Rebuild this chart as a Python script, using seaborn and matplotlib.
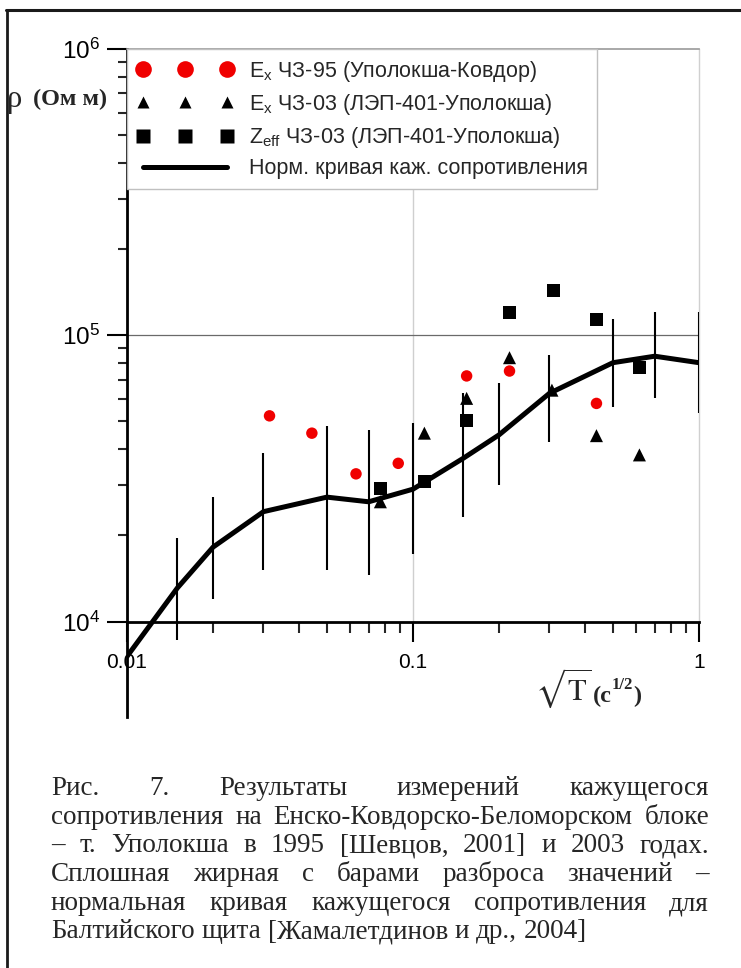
import numpy as np
import pandas as pd
import matplotlib
matplotlib.use("Agg")
import matplotlib.pyplot as plt
import seaborn as sns
from matplotlib.lines import Line2D
from matplotlib.ticker import FixedLocator, NullFormatter, FixedFormatter

# ---------------- data ----------------
sqrt_t = [0.01, 0.015, 0.02, 0.03, 0.05, 0.07, 0.1, 0.15, 0.2, 0.3, 0.5, 0.7, 1.0]
rho_norm = [7550, 13100, 18200, 24200, 27200, 26200, 29000, 37200, 44900, 62700, 80200, 84500, 80200]
rho_low = [4650, 8630, 11970, 15140, 15140, 14550, 17180, 23230, 30000, 42270, 56230, 60260, 53330]
rho_high = [12250, 19630, 27160, 38730, 48310, 46670, 49200, 62660, 67920, 85310, 114000, 120800, 120800]

ex95_t = [0.0315, 0.0443, 0.0632, 0.0888, 0.154, 0.2175, 0.438]
ex95_rho = [52300, 45500, 32800, 35700, 72100, 75000, 57800]

ex03_t = [0.0769, 0.1096, 0.154, 0.2175, 0.306, 0.438, 0.619]
ex03_rho = [26200, 45500, 60200, 83500, 64300, 44600, 38200]

zeff_t = [0.0769, 0.1096, 0.154, 0.2175, 0.309, 0.438, 0.619]
zeff_rho = [29200, 30800, 50200, 119800, 143900, 113600, 77200]

labels = [r"E$_\mathregular{x}$ ЧЗ-95 (Уполокша-Ковдор)",
          r"E$_\mathregular{x}$ ЧЗ-03 (ЛЭП-401-Уполокша)",
          r"Z$_\mathregular{eff}$ ЧЗ-03 (ЛЭП-401-Уполокша)",
          "Норм. кривая каж. сопротивления"]

y_major = [1e4, 1e5, 1e6]
y_major_labels = [r"$10^{4}$", r"$10^{5}$", r"$10^{6}$"]
x_major = [0.01, 0.1, 1]
x_major_labels = ["0.01", "0.1", "1"]

caption_lines = [
    "Рис. 7. Результаты измерений кажущегося",
    "сопротивления на Енско-Ковдорско-Беломорском блоке",
    "– т. Уполокша в 1995 [Шевцов, 2001] и 2003 годах.",
    "Сплошная жирная с барами разброса значений –",
    "нормальная кривая кажущегося сопротивления для",
    "Балтийского щита [Жамалетдинов и др., 2004]",
]

# ---------------- style ----------------
sns.set_theme(style="white")
plt.rcParams["font.family"] = ["Liberation Sans", "DejaVu Sans"]
plt.rcParams["mathtext.fontset"] = "custom"
plt.rcParams["mathtext.rm"] = "Liberation Sans"
plt.rcParams["mathtext.it"] = "Liberation Sans:italic"
plt.rcParams["mathtext.bf"] = "Liberation Sans:bold"

W, H = 741, 968
fig = plt.figure(figsize=(W / 100, H / 100), dpi=100)
fig.patch.set_facecolor("white")

def fx(px):
    return px / W

def fy(py):
    return 1 - py / H

ax_left, ax_right, ax_top, ax_bottom = 127, 699, 49, 717
ax = fig.add_axes([fx(ax_left), fy(ax_bottom), (ax_right - ax_left) / W, (ax_bottom - ax_top) / H])
ax.set_facecolor("white")
ax.set_xscale("log")
ax.set_yscale("log")
ax.set_xlim(0.01, 1)
ax.set_ylim(4640, 1e6)

# error bars
ax.vlines(sqrt_t, rho_low, rho_high, color="black", lw=1.5, zorder=3)

# normal curve
df_norm = pd.DataFrame({"t": sqrt_t, "rho": rho_norm})
sns.lineplot(data=df_norm, x="t", y="rho", ax=ax, color="black", lw=3.6, zorder=4,
             sort=False, estimator=None)

# points
sns.scatterplot(x=ex95_t, y=ex95_rho, ax=ax, marker="o", s=68, color="#f00000",
                edgecolor="none", zorder=5)
sns.scatterplot(x=ex03_t, y=ex03_rho, ax=ax, marker="^", s=88, color="black",
                edgecolor="none", zorder=5)
sns.scatterplot(x=zeff_t, y=zeff_rho, ax=ax, marker="s", s=88, color="black",
                edgecolor="none", zorder=5)

# grid lines
frac_1e4 = (np.log10(1e4) - np.log10(4640)) / (np.log10(1e6) - np.log10(4640))
ax.axvline(0.1, ymin=frac_1e4, ymax=1, color="#cfcfcf", lw=1.0, zorder=1)
ax.axhline(1e5, color="#6a6a6a", lw=0.9, zorder=1)

# spines
ax.spines["bottom"].set_position(("data", 1e4))
ax.spines["bottom"].set_linewidth(2.0)
ax.spines["bottom"].set_color("black")
ax.spines["left"].set_linewidth(2.0)
ax.spines["left"].set_color("black")
ax.spines["top"].set_color("#9a9a9a")
ax.spines["top"].set_linewidth(1.2)
ax.spines["right"].set_color("#d0d0d0")
ax.spines["right"].set_linewidth(1.0)
ax.spines["right"].set_bounds(1e4, 1e6)

# ticks
ax.yaxis.set_major_locator(FixedLocator(y_major))
ax.yaxis.set_major_formatter(FixedFormatter(y_major_labels))
y_minor = [m * 10 ** e for e in (4, 5) for m in range(2, 10)]
ax.yaxis.set_minor_locator(FixedLocator(y_minor))
ax.yaxis.set_minor_formatter(NullFormatter())
ax.xaxis.set_major_locator(FixedLocator(x_major))
ax.xaxis.set_major_formatter(FixedFormatter(x_major_labels))
x_minor = [m * 10 ** e for e in (-2, -1) for m in range(2, 10)]
ax.xaxis.set_minor_locator(FixedLocator(x_minor))
ax.xaxis.set_minor_formatter(NullFormatter())

ax.tick_params(axis="y", which="major", direction="out", length=14.4, width=1.5,
               labelsize=17.5, pad=5, left=True, right=False, colors="black")
ax.tick_params(axis="y", which="minor", direction="out", length=6.5, width=1.5,
               left=True, right=False)
ax.tick_params(axis="x", which="major", direction="out", length=14.4, width=1.5,
               labelsize=15, pad=8, bottom=True, top=False, colors="black")
ax.tick_params(axis="x", which="minor", direction="out", length=8, width=1.5,
               bottom=True, top=False)
ax.set_xlabel("")
ax.set_ylabel("")

# legend
handles = [
    Line2D([], [], ls="none", marker="o", ms=12, color="#f00000", mec="none"),
    Line2D([], [], ls="none", marker="^", ms=8, color="black", mec="none"),
    Line2D([], [], ls="none", marker="s", ms=9.5, color="black", mec="none"),
    Line2D([], [], ls="-", lw=3.6, color="black"),
]
leg = ax.legend(handles, labels, loc="upper left", bbox_to_anchor=(0, 1),
                borderaxespad=0, numpoints=3, handlelength=4.5, handletextpad=0.7,
                labelspacing=0.38, borderpad=0.45, fontsize=15.5, frameon=True,
                fancybox=False, framealpha=1, edgecolor="#c0c0c0")
leg.get_frame().set_linewidth(1.0)
leg.set_zorder(10)

# axis labels (placed in figure pixels)
fig.text(fx(7), fy(99), "ρ", fontfamily="Liberation Serif", fontsize=22,
         va="center", ha="left")
fig.text(fx(33), fy(99), "(Ом м)", fontfamily="Liberation Serif", fontweight="bold",
         fontsize=17.5, va="center", ha="left")

fig.canvas.draw()
renderer = fig.canvas.get_renderer()

def px_width(t):
    bb = t.get_window_extent(renderer)
    return bb.width

t1 = fig.text(fx(535), fy(700), r"$\sqrt{\mathrm{T}}$", fontsize=22, math_fontfamily="stix",
              va="baseline", ha="left")
x_cur = 535 + px_width(t1) + 1
t2 = fig.text(fx(x_cur), fy(702), "(с", fontfamily="Liberation Serif", fontweight="bold",
              fontsize=17.5, va="baseline", ha="left")
x_cur += px_width(t2)
t3 = fig.text(fx(x_cur), fy(689), "1/2", fontfamily="Liberation Serif", fontweight="bold",
              fontsize=12, va="baseline", ha="left")
x_cur += px_width(t3)
fig.text(fx(x_cur), fy(702), ")", fontfamily="Liberation Serif", fontweight="bold",
         fontsize=17.5, va="baseline", ha="left")

# caption, justified
cap_fs = 19.5
cap_left, cap_right = 51, 709
baselines = [795, 824, 852, 881, 910, 938]
probe_a = fig.text(0, 0, "a", fontfamily="Liberation Serif", fontsize=cap_fs)
probe_b = fig.text(0, 0, "a a", fontfamily="Liberation Serif", fontsize=cap_fs)
space_w = px_width(probe_b) - 2 * px_width(probe_a)
probe_a.remove()
probe_b.remove()
for i, (line, base) in enumerate(zip(caption_lines, baselines)):
    words = line.split(" ")
    texts = [fig.text(0, fy(base), w, fontfamily="Liberation Serif", fontsize=cap_fs,
                      va="baseline", ha="left") for w in words]
    widths = [px_width(t) for t in texts]
    if i == len(caption_lines) - 1:
        gap = space_w
    else:
        gap = (cap_right - cap_left - sum(widths)) / (len(words) - 1)
    x = cap_left
    for t, w in zip(texts, widths):
        t.set_x(fx(x))
        x += w + gap

# outer frame (top and left edges)
fig.add_artist(Line2D([fx(6), 1.0], [fy(10), fy(10)], transform=fig.transFigure,
                      color="#1a1a1a", lw=2.2))
fig.add_artist(Line2D([fx(7), fx(7)], [fy(10), 0.0], transform=fig.transFigure,
                      color="#1a1a1a", lw=2.0))

fig.savefig("out.png", dpi=100)
